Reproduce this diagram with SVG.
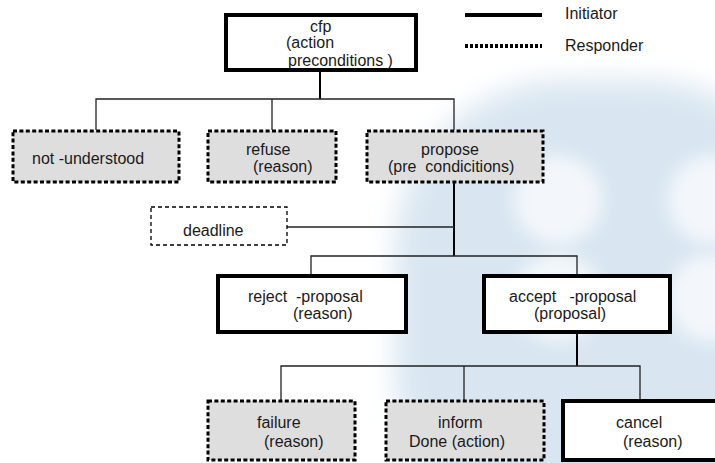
<svg xmlns="http://www.w3.org/2000/svg" width="715" height="463" viewBox="0 0 715 463">
<defs>
<filter id="blur" x="-30%" y="-30%" width="160%" height="160%"><feGaussianBlur stdDeviation="14"/></filter>
<filter id="blur2" x="-30%" y="-30%" width="160%" height="160%"><feGaussianBlur stdDeviation="8"/></filter>
<style>
text{font-family:"Liberation Sans",Arial,sans-serif;font-size:16px;fill:#1a1a1a;white-space:pre}
.init{fill:#ffffff;stroke:#000;stroke-width:4}
.resp{fill:#dedede;stroke:#000;stroke-width:3;stroke-dasharray:4 2.4}
.dl{fill:#fff;stroke:#000;stroke-width:1.3;stroke-dasharray:4 3}
.c{fill:none;stroke:#222;stroke-width:1.3}
.stem{fill:none;stroke:#000;stroke-width:2}
</style>
</defs>
<rect width="715" height="463" fill="#ffffff"/>
<g id="watermark">
<rect x="395" y="80" width="420" height="460" rx="170" fill="#d9e6f1" filter="url(#blur)"/>
<circle cx="558" cy="200" r="44" fill="#f3f7fb" filter="url(#blur2)"/>
<circle cx="558" cy="298" r="44" fill="#f3f7fb" filter="url(#blur2)"/>
<circle cx="712" cy="200" r="44" fill="#f3f7fb" filter="url(#blur2)"/>
<circle cx="712" cy="298" r="44" fill="#f3f7fb" filter="url(#blur2)"/>
</g>
<g id="legend">
<line x1="465" y1="15" x2="542" y2="15" stroke="#000" stroke-width="4"/>
<line x1="465" y1="46" x2="542" y2="46" stroke="#000" stroke-width="4" stroke-dasharray="3 2"/>
<text x="565" y="19">Initiator</text>
<text x="565" y="51">Responder</text>
</g>
<g id="connectors">
<path class="stem" d="M320 71V99"/>
<path class="c" d="M96 130V99H454V130M272 99V130"/>
<path class="stem" d="M454 183V256"/>
<path class="c" d="M287 227H454"/>
<path class="c" d="M311 275V256H577V275"/>
<path class="stem" d="M577 333V366"/>
<path class="c" d="M281 400V366H640V400M464 366V400"/>
</g>
<g id="cfp">
<rect class="init" x="226" y="15" width="190" height="55"/>
<text x="310" y="32">cfp</text>
<text x="286" y="48">(action</text>
<text x="288" y="66">preconditions )</text>
</g>
<g id="not-understood">
<rect class="resp" x="13" y="131" width="166" height="51"/>
<text x="32" y="164">not -understood</text>
</g>
<g id="refuse">
<rect class="resp" x="208" y="131" width="128" height="51"/>
<text x="246" y="155">refuse</text>
<text x="253" y="172">(reason)</text>
</g>
<g id="propose">
<rect class="resp" x="367" y="131" width="176" height="51"/>
<text x="421" y="155">propose</text>
<text x="388" y="172">(pre  condicitions)</text>
</g>
<g id="deadline">
<rect class="dl" x="151" y="207" width="136" height="38"/>
<text x="183" y="236">deadline</text>
</g>
<g id="reject-proposal">
<rect class="init" x="218" y="276" width="188" height="56"/>
<text x="248" y="302">reject  -proposal</text>
<text x="293" y="319">(reason)</text>
</g>
<g id="accept-proposal">
<rect class="init" x="484" y="276" width="186" height="56"/>
<text x="509" y="302">accept   -proposal</text>
<text x="534" y="319">(proposal)</text>
</g>
<g id="failure">
<rect class="resp" x="208" y="401" width="147" height="59"/>
<text x="257" y="428">failure</text>
<text x="264" y="447">(reason)</text>
</g>
<g id="inform">
<rect class="resp" x="386" y="401" width="158" height="59"/>
<text x="438" y="428">inform</text>
<text x="409" y="447">Done (action)</text>
</g>
<g id="cancel">
<rect class="init" x="563" y="401" width="155" height="59"/>
<text x="616" y="428">cancel</text>
<text x="623" y="447">(reason)</text>
</g>
</svg>
